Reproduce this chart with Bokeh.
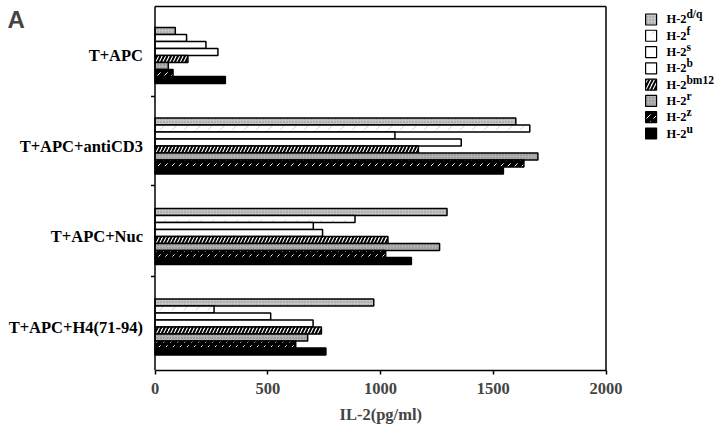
from bokeh.plotting import figure
from bokeh.models import Range1d, FixedTicker, Label, ColumnDataSource, Title
from bokeh.transform import dodge
from bokeh.core.properties import value
from bokeh.embed import file_html
from bokeh.resources import INLINE

# ---- data ----
categories = ["T+APC", "T+APC+antiCD3", "T+APC+Nuc", "T+APC+H4(71-94)"]
strains = ["d/q", "f", "s", "b", "bm12", "r", "z", "u"]
h2_dq = [90, 1600, 1295, 970]
h2_f = [140, 1662, 887, 262]
h2_s = [226, 1064, 702, 513]
h2_b = [279, 1358, 743, 701]
h2_bm12 = [146, 1168, 1033, 738]
h2_r = [59, 1698, 1262, 677]
h2_z = [80, 1636, 1023, 624]
h2_u = [312, 1545, 1137, 758]
series = [h2_dq, h2_f, h2_s, h2_b, h2_bm12, h2_r, h2_z, h2_u]
x_ticks = [0, 500, 1000, 1500, 2000]
group_pos = [0, 1, 2, 3]
separators = [0.453, 1.436, 2.442]

# ---- styles ----
styles = [
    dict(fill_color="#c6c6c6", hatch_pattern="dot", hatch_color="#8a8a8a", hatch_scale=3, hatch_weight=1),
    dict(fill_color="white", hatch_pattern="right_diagonal_dash", hatch_color="#d2d2d2", hatch_scale=12, hatch_weight=1),
    dict(fill_color="white"),
    dict(fill_color="white"),
    dict(fill_color="white", hatch_pattern="right_diagonal_line", hatch_color="black", hatch_scale=7, hatch_weight=2),
    dict(fill_color="#b2b2b2", hatch_pattern="dot", hatch_color="#808080", hatch_scale=3, hatch_weight=1),
    dict(fill_color="black", hatch_pattern="right_diagonal_dash", hatch_color="white", hatch_scale=7, hatch_weight=1),
    dict(fill_color="black"),
]

SERIF = value("Liberation Serif")
W, H = 720, 434
AXIS_X = 154.5                 # px position of x = 0
PX_PER_UNIT = 0.2255           # horizontal scale, px per pg/ml
X_START = -AXIS_X / PX_PER_UNIT
X_END = (W - AXIS_X) / PX_PER_UNIT
GROUP_PX = 90.5                # px per group
Y_TOP = -55 / GROUP_PX
BOTTOM_PANEL = 64
Y_BOTTOM = Y_TOP + (H - BOTTOM_PANEL) / GROUP_PX

p = figure(width=W, height=H, output_backend="svg", toolbar_location=None,
           x_range=Range1d(X_START, X_END), y_range=Range1d(Y_BOTTOM, Y_TOP),
           y_axis_location=None,
           min_border_left=0, min_border_right=0, min_border_top=0, min_border_bottom=BOTTOM_PANEL)
p.outline_line_color = None
p.grid.visible = False
p.background_fill_color = "white"

bh = 0.0773
for j, (vals, st) in enumerate(zip(series, styles)):
    src = ColumnDataSource(dict(y=group_pos, v=vals))
    p.hbar(y=dodge("y", (j - 3.5) * bh, range=None), left=0, right="v", height=bh, source=src,
           line_color="black", line_width=1.5, **st)

# axis frame: left axis line, top and right borders
ytop = -49 / GROUP_PX
p.segment(x0=[0], x1=[0], y0=[ytop], y1=[Y_BOTTOM], line_color="black", line_width=1.5)
p.segment(x0=[0], x1=[2000], y0=[ytop], y1=[ytop], line_color="black", line_width=1.5)
p.segment(x0=[2000], x1=[2000], y0=[ytop], y1=[Y_BOTTOM], line_color="black", line_width=1.5)

# y separator ticks and category labels
tick_len = 4 / PX_PER_UNIT
p.segment(x0=[0] * len(separators), x1=[-tick_len] * len(separators), y0=separators, y1=separators,
          line_color="black", line_width=1.5)
p.text(x=[0] * len(categories), y=group_pos, text=categories, x_offset=-12, text_align="right",
       text_baseline="middle", text_font=SERIF, text_font_style="bold", text_font_size="16.5px",
       text_color="black")

# x axis
xa = p.xaxis[0]
xa.ticker = FixedTicker(ticks=x_ticks)
xa.bounds = (0, 2000)
xa.major_label_text_font = "Liberation Serif"
xa.major_label_text_font_style = "bold"
xa.major_label_text_font_size = "16.5px"
xa.major_label_standoff = 8
xa.major_tick_out = 4
xa.major_tick_in = 0
xa.minor_tick_out = 0
xa.axis_line_width = 1.5
xa.major_tick_line_width = 1.5
xa.axis_line_color = "black"

p.add_layout(Title(text="IL-2(pg/ml)", align="left", offset=339, standoff=16, vertical_align="top",
                   text_font="Liberation Serif", text_font_style="bold", text_font_size="16.5px"),
             "below")

# legend (drawn manually to allow superscripts)
leg_x = 2200
txt_x = 2268
leg_y0 = -0.398
leg_dy = 0.18
leg_y = [leg_y0 + i * leg_dy for i in range(len(strains))]
for i, st in enumerate(styles):
    p.scatter(x=[leg_x], y=[leg_y[i]], marker="square", size=11, line_color="black", line_width=1.2, **st)
p.text(x=[txt_x] * len(strains), y=leg_y, text=["H-2"] * len(strains), text_font=SERIF,
       text_font_style="bold", text_font_size="12.5px", text_baseline="middle", text_color="black")
p.text(x=[txt_x] * len(strains), y=leg_y, text=strains, x_offset=20, y_offset=-5, text_font=SERIF,
       text_font_style="bold", text_font_size="11.5px", text_baseline="middle", text_color="black")

# panel letter
p.add_layout(Label(x=7, y=-50 / GROUP_PX, x_units="screen", y_units="data", text="A",
                   text_font="Liberation Sans", text_font_style="bold", text_font_size="24px",
                   text_baseline="top"))

open("out.html", "w").write(file_html(p, INLINE))
